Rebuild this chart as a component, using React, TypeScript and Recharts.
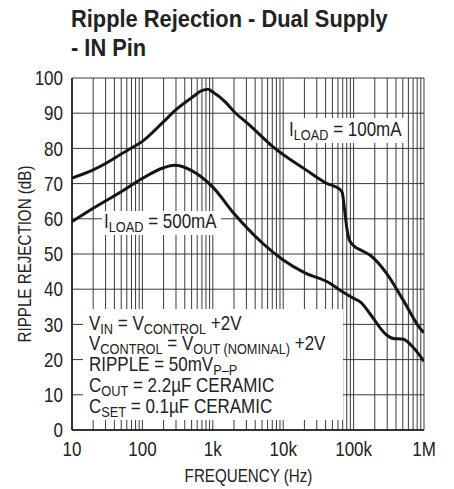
import React from 'react';
import { LineChart, Line, XAxis, YAxis, CartesianGrid } from 'recharts';

// 100mA curve: frequency (Hz) / rejection (dB)
const load100Freq = [10, 20, 30, 50, 70, 100, 200, 300, 500, 700, 850, 1000, 1500, 2000, 3300, 7100, 21000, 41000, 63500, 69000, 75000, 80000, 85000, 95000, 130000, 170000, 294000, 507000, 877000, 1000000];
const load100Db = [71.6, 73.9, 75.7, 78.4, 80.1, 82, 87.6, 91, 94.4, 96.4, 96.8, 96, 93.2, 90.5, 86.7, 80.5, 73.9, 70.1, 68.4, 67.4, 62, 57.5, 54.6, 52.8, 51, 49.7, 44.5, 36.9, 28.9, 27.6];

// 500mA curve
const load500Freq = [10, 20, 50, 100, 200, 284, 500, 1000, 2000, 5000, 10000, 20000, 46000, 63500, 98000, 128000, 170000, 294000, 366000, 507000, 700000, 1000000];
const load500Db = [59.2, 63, 67.7, 71.5, 74.5, 75.2, 73.7, 69, 61.5, 53.2, 48.3, 44.7, 41.7, 39.8, 37.5, 36.2, 33.1, 27, 26, 25.8, 23.5, 19.5];

const decades = [10, 100, 1000, 10000, 100000, 1000000];
const xTickLabels = ['10', '100', '1k', '10k', '100k', '1M'];
const yTicks = [0, 10, 20, 30, 40, 50, 60, 70, 80, 90, 100];

const load100 = load100Freq.map((f, i) => ({ f, db: load100Db[i] }));
const load500 = load500Freq.map((f, i) => ({ f, db: load500Db[i] }));

const xTicks: number[] = [];
decades.forEach((d, i) => {
  if (i === decades.length - 1) {
    xTicks.push(d);
    return;
  }
  for (let k = 1; k <= 9; k++) xTicks.push(d * k);
});

const FONT = "'Liberation Sans', Arial, sans-serif";
const SX = 0.85; // squeeze to mimic a condensed face

const fmtX = (v: number) => {
  const idx = decades.indexOf(v);
  return idx >= 0 ? xTickLabels[idx] : '';
};

// condensed-looking text: anchor at (x, y) then squeeze horizontally
const NText = ({ x, y, size = 20, sx = SX, anchor = 'start', weight, rotate, children }: any) => (
  <text
    transform={`translate(${x},${y})${rotate ? ` rotate(${rotate})` : ''} scale(${sx},1)`}
    fontSize={size}
    textAnchor={anchor}
    fontWeight={weight}
  >
    {children}
  </text>
);

const Sub = ({ children }: { children: React.ReactNode }) => (
  <tspan fontSize={15} dy={4}>{children}</tspan>
);
const Up = ({ children }: { children: React.ReactNode }) => (
  <tspan dy={-4}>{children}</tspan>
);

const XTick = (props: any) => {
  const { x, y, payload } = props;
  const label = fmtX(payload.value);
  if (!label) return null;
  return (
    <text transform={`translate(${x},${y}) scale(${SX},1)`} y={14.2} textAnchor="middle" fontSize={20} fontFamily={FONT} fill="#222">
      {label}
    </text>
  );
};

const YTick = (props: any) => {
  const { x, y, payload } = props;
  return (
    <text transform={`translate(${x},${y}) scale(${SX},1)`} y={7.1} textAnchor="end" fontSize={20} fontFamily={FONT} fill="#222">
      {payload.value}
    </text>
  );
};

export default function App() {
  return (
    <div style={{ position: 'absolute', left: 0, top: 0, width: 454, height: 489, background: '#fff' }}>
      <LineChart width={454} height={489} margin={{ top: 78, right: 30, bottom: 29, left: 0 }}>
        <CartesianGrid stroke="#3a3a3a" strokeWidth={1} />
        <XAxis
          dataKey="f"
          type="number"
          scale="log"
          domain={[10, 1000000]}
          allowDataOverflow
          ticks={xTicks}
          interval={0}
          tickFormatter={fmtX}
          tickSize={0}
          tickMargin={12}
          height={30}
          axisLine={{ stroke: '#111', strokeWidth: 1.5 }}
          tick={<XTick />}
        />
        <YAxis
          type="number"
          domain={[0, 100]}
          ticks={yTicks}
          interval={0}
          width={72}
          tickSize={0}
          tickMargin={9}
          axisLine={{ stroke: '#111', strokeWidth: 1.5 }}
          tick={<YTick />}
        />
        <Line data={load100} dataKey="db" type="monotone" stroke="#151515" strokeWidth={3} dot={false} isAnimationActive={false} />
        <Line data={load500} dataKey="db" type="monotone" stroke="#151515" strokeWidth={3} dot={false} isAnimationActive={false} />
      </LineChart>
      <svg width={454} height={489} style={{ position: 'absolute', left: 0, top: 0, pointerEvents: 'none' }} fontFamily={FONT} fill="#222">
        <NText x={71} y={27} size={24} sx={0.91} weight="bold">Ripple Rejection - Dual Supply</NText>
        <NText x={71} y={56} size={24} sx={0.91} weight="bold">- IN Pin</NText>

        <NText x={248.5} y={481.5} size={18.5} sx={0.82} anchor="middle">FREQUENCY (Hz)</NText>
        <NText x={31} y={254} size={18.5} sx={0.82} anchor="middle" rotate={-90}>RIPPLE REJECTION (dB)</NText>

        <rect x={286} y={118} width={120} height={25} fill="#fff" />
        <NText x={289} y={136}>I<Sub>LOAD</Sub><Up> = 100mA</Up></NText>

        <rect x={102} y={211} width={119} height={24} fill="#fff" />
        <NText x={104} y={228}>I<Sub>LOAD</Sub><Up> = 500mA</Up></NText>

        <rect x={83} y={309} width={260} height={111} fill="#fff" />
        <NText x={89} y={329.5}>V<Sub>IN</Sub><Up> = V</Up><Sub>CONTROL</Sub><Up> +2V</Up></NText>
        <NText x={89} y={350.3}>V<Sub>CONTROL</Sub><Up> = V</Up><Sub>OUT (NOMINAL)</Sub><Up> +2V</Up></NText>
        <NText x={89} y={371}>RIPPLE = 50mV<Sub>P–P</Sub></NText>
        <NText x={89} y={391.8}>C<Sub>OUT</Sub><Up> = 2.2µF CERAMIC</Up></NText>
        <NText x={89} y={412.8}>C<Sub>SET</Sub><Up> = 0.1µF CERAMIC</Up></NText>
      </svg>
    </div>
  );
}
